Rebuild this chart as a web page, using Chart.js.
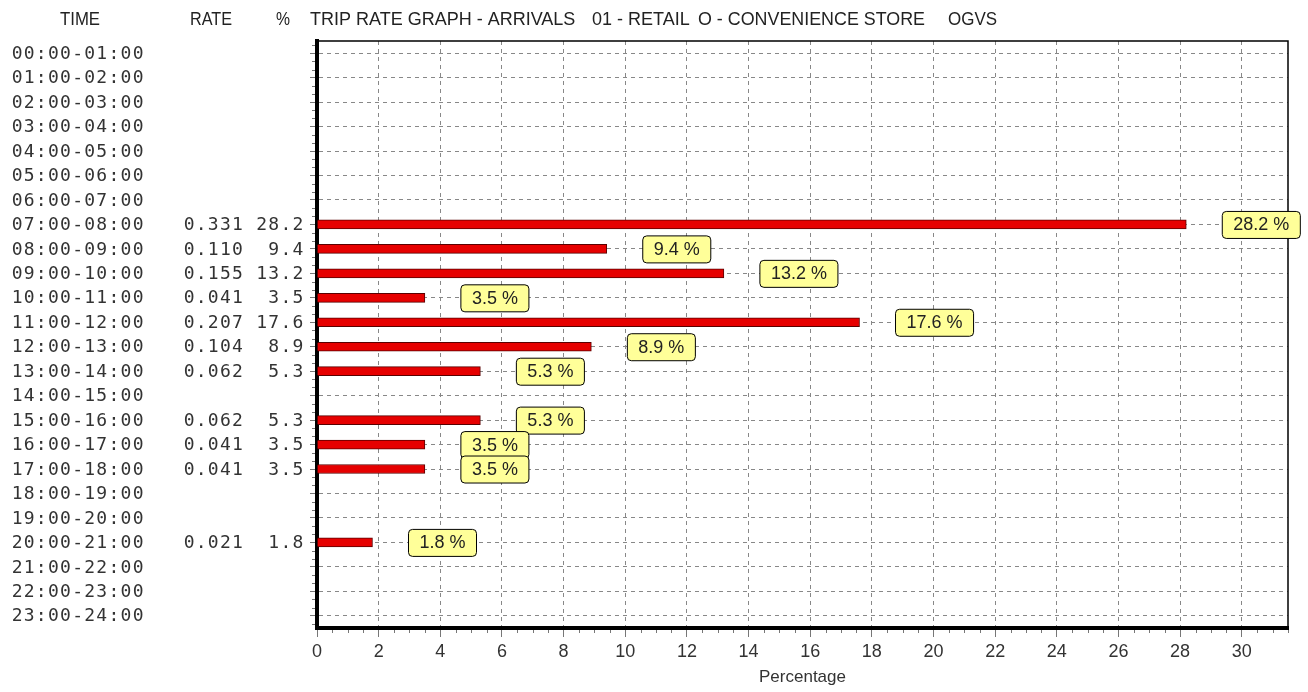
<!DOCTYPE html>
<html>
<head>
<meta charset="utf-8">
<script src="https://cdn.jsdelivr.net/npm/chart.js@4/dist/chart.umd.min.js"></script>
<style>
  body { margin: 0; background: #fff; }
  #wrap { width: 1308px; height: 692px; position: relative; }
</style>
</head>
<body>
<div id="wrap"><canvas id="tripChart"></canvas></div>
<script>
// hourly periods, rates and percentages
var timeLabels = ['00:00-01:00', '01:00-02:00', '02:00-03:00', '03:00-04:00', '04:00-05:00', '05:00-06:00',
  '06:00-07:00', '07:00-08:00', '08:00-09:00', '09:00-10:00', '10:00-11:00', '11:00-12:00',
  '12:00-13:00', '13:00-14:00', '14:00-15:00', '15:00-16:00', '16:00-17:00', '17:00-18:00',
  '18:00-19:00', '19:00-20:00', '20:00-21:00', '21:00-22:00', '22:00-23:00', '23:00-24:00'];
var rateValues = [null, null, null, null, null, null, null, 0.331, 0.110, 0.155, 0.041, 0.207,
  0.104, 0.062, null, 0.062, 0.041, 0.041, null, null, 0.021, null, null, null];
var pctValues = [null, null, null, null, null, null, null, 28.2, 9.4, 13.2, 3.5, 17.6,
  8.9, 5.3, null, 5.3, 3.5, 3.5, null, null, 1.8, null, null, null];
var xTicks = [0, 2, 4, 6, 8, 10, 12, 14, 16, 18, 20, 22, 24, 26, 28, 30];

var PITCH = 12.1;
var monoFont = '18px "DejaVu Sans Mono"';

// draws fixed-pitch text char by char (the original is a wide terminal style font)
function monoText(ctx, str, x, y, alignRight) {
  var x0 = alignRight ? x - str.length * PITCH : x;
  for (var i = 0; i < str.length; i++) {
    ctx.fillText(str[i], x0 + i * PITCH + PITCH / 2, y);
  }
}

var sidePlugin = {
  id: 'sideText',
  afterDraw: function(chart) {
    var ctx = chart.ctx;
    var ys = chart.scales.y;
    var area = chart.chartArea;
    ctx.save();

    // header
    ctx.fillStyle = '#222';
    ctx.font = '18px "Liberation Sans"';
    ctx.textBaseline = 'middle';
    ctx.textAlign = 'left';
    ctx.fillText('TIME', 60, 20, 40);
    ctx.fillText('RATE', 190, 20, 42);
    ctx.fillText('%', 276, 20, 14);
    ctx.fillText('TRIP RATE GRAPH - ARRIVALS', 310, 20, 268);
    ctx.fillText('01 - RETAIL', 592, 20, 101);
    ctx.fillText('O - CONVENIENCE STORE', 698, 20, 227);
    ctx.fillText('OGVS', 948, 20, 49);

    // left columns
    ctx.fillStyle = '#333';
    ctx.font = monoFont;
    ctx.textAlign = 'center';
    timeLabels.forEach(function(lbl, i) {
      var y = ys.getPixelForValue(i) + 1;
      monoText(ctx, lbl, 11, y, false);
      if (rateValues[i] != null) {
        monoText(ctx, rateValues[i].toFixed(3), 183, y, false);
      }
      if (pctValues[i] != null) {
        monoText(ctx, pctValues[i].toFixed(1), 304, y, true);
      }
    });

    // top and right frame
    ctx.strokeStyle = '#000';
    ctx.lineWidth = 1.5;
    ctx.beginPath();
    ctx.moveTo(area.left, area.top);
    ctx.lineTo(area.right, area.top);
    ctx.lineTo(area.right, area.bottom);
    ctx.stroke();

    // minor ticks
    var xs = chart.scales.x;
    ctx.strokeStyle = '#777';
    ctx.lineWidth = 1;
    ctx.beginPath();
    for (var v = 0.5; v <= 31.5; v += 0.5) {
      if (v % 2 === 0) continue;
      var px = Math.round(xs.getPixelForValue(v)) + 0.5;
      ctx.moveTo(px, area.bottom + 2);
      ctx.lineTo(px, area.bottom + 5);
    }
    var step = (ys.getPixelForValue(1) - ys.getPixelForValue(0)) / 3;
    for (var k = 0; k < timeLabels.length; k++) {
      var cy = ys.getPixelForValue(k);
      [-1, 1].forEach(function(d) {
        var py = Math.round(cy + d * step) + 0.5;
        ctx.moveTo(area.left - 5, py);
        ctx.lineTo(area.left - 2, py);
      });
    }
    ctx.stroke();

    // value boxes
    var meta = chart.getDatasetMeta(0);
    ctx.font = '18px "Liberation Sans"';
    ctx.textAlign = 'left';
    ctx.textBaseline = 'middle';
    meta.data.forEach(function(bar, i) {
      var v = pctValues[i];
      if (v == null) return;
      var txt = v.toFixed(1) + ' %';
      var w = ctx.measureText(txt).width + 22;
      var bx = xs.getPixelForValue(v) + 36;
      var by = bar.y - 13;
      ctx.beginPath();
      ctx.roundRect(bx, by, w, 27, 4);
      ctx.fillStyle = '#ffff99';
      ctx.fill();
      ctx.strokeStyle = '#000';
      ctx.lineWidth = 1;
      ctx.stroke();
      ctx.fillStyle = '#222';
      ctx.fillText(txt, bx + 11, bar.y + 1);
    });

    ctx.restore();
  }
};

var chart = new Chart('tripChart', {
  type: 'bar',
  data: {
    labels: timeLabels,
    datasets: [{
      data: pctValues,
      backgroundColor: '#e60000',
      borderColor: '#5a0000',
      borderWidth: 1,
      barThickness: 9
    }]
  },
  plugins: [sidePlugin],
  options: {
    indexAxis: 'y',
    responsive: true,
    maintainAspectRatio: false,
    animation: false,
    layout: { padding: { top: 41, right: 20, left: 0, bottom: 0 } },
    plugins: {
      legend: { display: false },
      tooltip: { enabled: false }
    },
    scales: {
      x: {
        min: 0,
        max: 31.5,
        afterBuildTicks: function(scale) {
          scale.ticks = xTicks.map(function(v) { return { value: v }; });
        },
        afterFit: function(scale) { scale.height = 64; },
        grid: { color: '#888', lineWidth: 1, tickLength: 9, tickColor: '#777' },
        border: { color: '#000', width: 4, dash: [4, 4] },
        ticks: {
          color: '#333',
          padding: 4,
          maxRotation: 0,
          font: { family: 'Liberation Sans', size: 18 }
        },
        title: {
          display: true,
          text: 'Percentage',
          color: '#333',
          padding: { top: 0 },
          font: { family: 'Liberation Sans', size: 17 }
        }
      },
      y: {
        afterFit: function(scale) { scale.width = 317; },
        grid: { color: '#888', lineWidth: 1, offset: false, tickLength: 7, tickColor: '#777' },
        border: { color: '#000', width: 4, dash: [4, 4] },
        ticks: { display: false }
      }
    }
  }
});
</script>
</body>
</html>
